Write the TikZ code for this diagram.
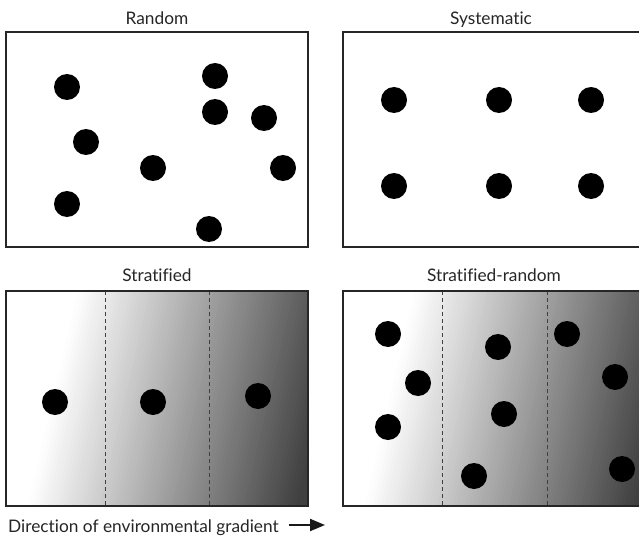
\documentclass[tikz,border=0pt]{standalone}
\usepackage{fontspec}
\setmainfont[Ligatures=NoCommon]{Lato}
\usetikzlibrary{arrows.meta}
\newcommand\envgradfill[4]{%
  \begin{scope}
    \clip (#1,#2) rectangle (#3,#4);
    \foreach \s in {-60,-56,...,400} {
      \pgfmathsetmacro\tt{max(0,min(1,(\s-70)/270))}
      \pgfmathsetmacro\pp{75*\tt}
      \fill[black!\pp] (#1+\s,#2) -- (#1+\s+4.6,#2) -- (#1+\s+4.6-50,#4) -- (#1+\s-50,#4) -- cycle;
    }
  \end{scope}}
\begin{document}
\begin{tikzpicture}[x=1pt,y=-1pt,
  dot/.style={circle,fill=black,minimum size=26pt,inner sep=0pt},
  panel/.style={draw=black!85,line width=1.2pt},
  divider/.style={draw=black!75,line width=0.8pt,dash pattern=on 4pt off 3pt},
  title/.style={font=\fontsize{17.3}{20}\selectfont,text=black!85,anchor=base,inner sep=0pt},
  caption/.style={font=\fontsize{17.3}{20}\selectfont,text=black!85,anchor=base west,inner sep=0pt}]
\clip (0,0) rectangle (639,540);
\fill[white] (0,0) rectangle (639,540);
% Random
\node[title] (tRandom) at (157,24.5) {Random};
\draw[panel] (6,32) rectangle (308,247);
\foreach \n/\x/\y in {r1/67/87,r2/215/76,r3/215/112,r4/264/118,r5/86/142,r6/153/168,r7/283/168,r8/67/204,r9/209/229}
  \node[dot] (\n) at (\x,\y) {};
% Systematic
\node[title] (tSystematic) at (491,24.5) {Systematic};
\draw[panel] (343,32) rectangle (645,247);
\foreach \n/\x/\y in {s1/394/100,s2/499/100,s3/591/100,s4/394/186,s5/499/186,s6/591/186}
  \node[dot] (\n) at (\x,\y) {};
% Stratified
\node[title] (tStratified) at (157,281.5) {Stratified};
\envgradfill{6}{291}{308}{506}
\draw[divider] (105,291) -- (105,506);
\draw[divider] (209,291) -- (209,506);
\draw[panel] (6,291) rectangle (308,506);
\foreach \n/\x/\y in {st1/55/402,st2/153/402,st3/258/396}
  \node[dot] (\n) at (\x,\y) {};
% Stratified-random
\node[title] (tStratRandom) at (494,281.5) {Stratified-random};
\envgradfill{343}{291}{645}{506}
\draw[divider] (442,291) -- (442,506);
\draw[divider] (547,291) -- (547,506);
\draw[panel] (343,291) rectangle (645,506);
\foreach \n/\x/\y in {sr1/388/334,sr2/418/383,sr3/388/427,sr4/498/347,sr5/504/414,sr6/474/476,sr7/567/334,sr8/615/377,sr9/622/469}
  \node[dot] (\n) at (\x,\y) {};
% caption and arrow
\node[caption] (dir) at (8,532) {Direction of environmental gradient};
\coordinate (arrowStart) at (289,525);
\coordinate (arrowEnd) at (325,525);
\draw[line width=2pt,black!90,-{Triangle[length=15pt,width=12pt]}] (arrowStart) -- (arrowEnd);
\end{tikzpicture}
\end{document}
